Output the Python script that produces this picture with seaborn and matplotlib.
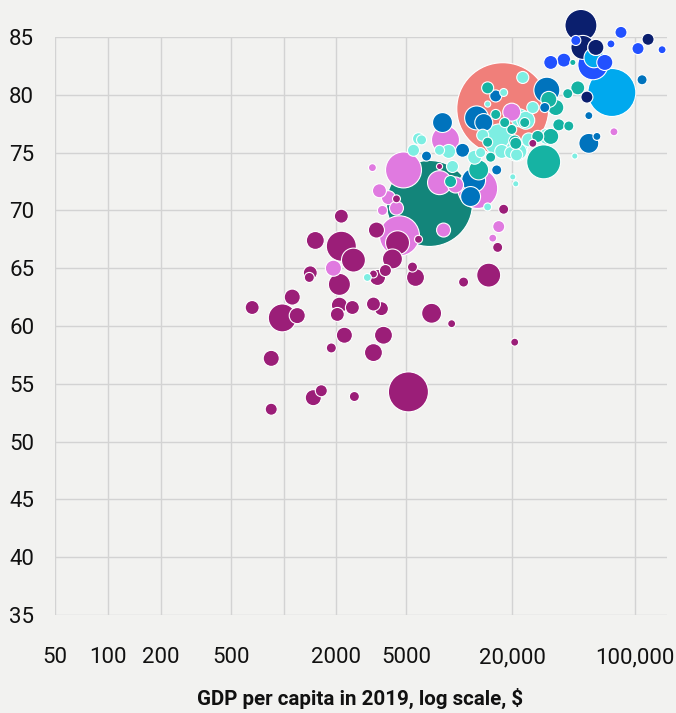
import matplotlib
matplotlib.use("Agg")
import matplotlib.pyplot as plt
import seaborn as sns
import pandas as pd
from matplotlib import font_manager

# ---------------- data ----------------
# Sub-Saharan Africa
ssa_gdp = [2133, 1517, 2133, 2500, 1420, 1402, 2080, 663, 1121, 984, 1197, 2080, 2024, 2466,
           3250, 3608, 2220, 1871, 3706, 3250, 851, 1641, 1477, 2531, 851, 5140, 3380, 4456,
           5867, 4169, 3802, 3427, 3250, 5420, 5640, 6966, 9057, 20700, 14720, 10590, 17910,
           16560, 4395, 7727, 26240]
ssa_life = [69.5, 67.4, 66.9, 65.7, 64.6, 64.2, 63.6, 61.6, 62.5, 60.7, 60.9, 61.8, 61.0, 61.6,
            61.9, 61.5, 59.2, 58.1, 59.2, 57.7, 57.2, 54.4, 53.8, 53.9, 52.8, 54.3, 68.3, 67.2,
            67.5, 65.8, 64.8, 64.2, 64.5, 65.1, 64.2, 61.1, 60.2, 58.6, 64.4, 63.8, 70.1,
            66.8, 71.0, 73.8, 75.8]
ssa_pop = [31, 51, 143, 91, 31, 16, 77, 31, 41, 124, 41, 41, 31, 31,
           31, 31, 41, 16, 51, 51, 41, 23, 41, 16, 23, 254, 41, 91,
           10, 63, 23, 41, 10, 16, 51, 63, 10, 10, 91, 16, 16,
           16, 10, 6, 10]

# Asia (other)
asia_gdp = [4571, 1923, 4819, 3206, 3516, 3953, 4395, 3656, 8147, 8356, 12740, 19910, 16790,
            15520, 76030, 7727, 9530]
asia_life = [67.8, 65.0, 73.5, 73.7, 71.7, 71.1, 70.2, 70.0, 68.3, 76.1, 71.9, 78.5, 68.6,
             67.6, 76.8, 72.4, 72.2]
asia_pop = [254, 41, 205, 10, 31, 31, 31, 16, 31, 124, 254, 51, 23, 10, 10, 91, 41]

# India, China
india_gdp, india_life, india_pop = [6775], [70.6], [1172]
china_gdp, china_life, china_pop = [17700], [78.8], [1340]

# Latin America
lat_gdp = [5867, 5495, 3000, 8710, 9162, 6105, 7727, 12240, 13240, 13610, 14520, 17000, 21230,
           22130, 23010, 17910, 14520, 24890, 31550, 21830, 19630, 17460, 21230, 20180, 20990,
           45500, 26240, 23930]
lat_life = [76.2, 75.2, 64.2, 75.1, 73.8, 76.1, 75.2, 74.6, 75.0, 76.5, 70.3, 76.1, 75.2,
            78.0, 81.5, 80.2, 79.2, 76.1, 76.4, 75.1, 75.0, 75.1, 74.8, 72.9, 72.3,
            74.7, 78.9, 77.8]
lat_pop = [23, 23, 10, 31, 23, 16, 16, 31, 16, 23, 10, 162, 77,
           51, 23, 10, 6, 31, 41, 41, 23, 31, 23, 6, 6,
           6, 23, 51]

# Emerging Europe / Central Asia
eur_em_gdp = [30270, 12910, 8933, 14520, 16140, 18150, 23600, 19910, 20700, 14520, 15100,
              28000, 20990, 32360, 35480, 41500, 47320, 36900, 42070, 33190, 44360]
eur_em_life = [74.2, 73.5, 72.5, 80.6, 78.3, 77.6, 77.6, 77.0, 76.0, 75.9, 74.6,
               76.4, 75.8, 79.6, 78.9, 80.1, 80.6, 77.4, 77.3, 76.4, 82.8]
eur_em_pop = [183, 63, 23, 23, 16, 16, 16, 16, 23, 16, 16,
              23, 23, 41, 41, 16, 31, 23, 16, 41, 6]

# Middle East & North Africa
mena_gdp = [31550, 12560, 13800, 8035, 10450, 6516, 12080, 11610, 16140, 30690, 54700, 60810,
            54700, 109900, 16350]
mena_life = [80.4, 78.0, 77.6, 77.6, 75.2, 74.7, 72.6, 71.2, 79.9, 78.9, 75.8, 76.4,
             78.2, 81.3, 73.5]
mena_pop = [107, 91, 51, 63, 31, 16, 91, 63, 23, 16, 63, 10, 10, 16, 16]

# Western Europe
weur_gdp = [57680, 67450, 33190, 39450, 83370, 73110, 104200, 142900, 59980, 46130]
weur_life = [82.6, 82.8, 82.8, 83.0, 85.4, 84.4, 84.0, 83.9, 84.1, 84.7]
weur_pop = [143, 41, 31, 31, 23, 10, 23, 10, 41, 16]

# Rich Asia
rasia_gdp = [49320, 50580, 59980, 118900, 53330]
rasia_life = [86.0, 84.1, 84.1, 84.8, 79.8]
rasia_pop = [162, 91, 41, 23, 23]

# North America
nam_gdp = [73960, 58480]
nam_life = [80.2, 83.2]
nam_pop = [365, 63]

x_ticks = [50, 100, 200, 500, 1000, 2000, 5000, 20000, 100000]
x_tick_labels = ["50", "100", "200", "500", "", "2000", "5000", "20,000", "100,000"]
y_ticks = [35, 40, 45, 50, 55, 60, 65, 70, 75, 80, 85]
x_title = "GDP per capita in 2019, log scale, $"

palette = {
    "Sub-Saharan Africa": "#9b1e78",
    "Asia": "#e07ae0",
    "India": "#13857a",
    "China": "#f07f7a",
    "Latin America": "#7deee2",
    "Emerging Europe": "#16b3a3",
    "Middle East": "#0073bd",
    "Western Europe": "#2251ff",
    "Rich Asia": "#0b1f6e",
    "North America": "#00a9ee",
}

groups = [
    ("Sub-Saharan Africa", ssa_gdp, ssa_life, ssa_pop),
    ("Asia", asia_gdp, asia_life, asia_pop),
    ("India", india_gdp, india_life, india_pop),
    ("China", china_gdp, china_life, china_pop),
    ("Latin America", lat_gdp, lat_life, lat_pop),
    ("Emerging Europe", eur_em_gdp, eur_em_life, eur_em_pop),
    ("Middle East", mena_gdp, mena_life, mena_pop),
    ("Western Europe", weur_gdp, weur_life, weur_pop),
    ("Rich Asia", rasia_gdp, rasia_life, rasia_pop),
    ("North America", nam_gdp, nam_life, nam_pop),
]
frames = []
for name, g, l, p in groups:
    frames.append(pd.DataFrame({"gdp": g, "life": l, "pop": p, "region": name}))
df = pd.concat(frames, ignore_index=True)
df = df.sort_values("pop", ascending=False).reset_index(drop=True)

# ---------------- style ----------------
BG = "#f2f2f0"
sns.set_theme(style="white")
avail = {f.name for f in font_manager.fontManager.ttflist}
tick_font = "Roboto" if "Roboto" in avail else "DejaVu Sans"
label_font = "Liberation Sans Narrow" if "Liberation Sans Narrow" in avail else "Roboto"
plt.rcParams["font.family"] = [tick_font, "DejaVu Sans"]

fig = plt.figure(figsize=(6.76, 7.13), dpi=100, facecolor=BG)
ax = fig.add_axes([55 / 676, 1 - 615 / 713, 612 / 676, 578 / 713])
ax.set_facecolor(BG)

max_pop = 1340
sns.scatterplot(
    data=df, x="gdp", y="life", hue="region", size="pop",
    palette=palette, sizes=(0, 3.27 * max_pop), size_norm=(0, max_pop),
    edgecolor="white", linewidth=0.8, alpha=1, legend=False,
    ax=ax, clip_on=False, zorder=3,
)

ax.set_xscale("log")
ax.set_xlim(50, 152400)
ax.set_ylim(35, 85)
ax.set_xticks(x_ticks)
ax.set_xticklabels(x_tick_labels)
ax.minorticks_off()
ax.set_yticks(y_ticks)
ax.grid(True, color="#d3d3d3", linewidth=1.0, zorder=0)
ax.set_axisbelow(True)
for s in ax.spines.values():
    s.set_visible(False)
ax.tick_params(axis="both", length=0, labelsize=16, colors="#111111")
ax.tick_params(axis="x", pad=23)
ax.tick_params(axis="y", pad=15)
ax.set_ylabel("")
ax.set_xlabel("")
fig.text(360 / 676, 1 - 698 / 713, x_title, ha="center", va="center",
         fontsize=14.8, fontweight="bold", family=[label_font, "DejaVu Sans"],
         color="#111111")

fig.savefig("out.png", dpi=100, facecolor=BG)
